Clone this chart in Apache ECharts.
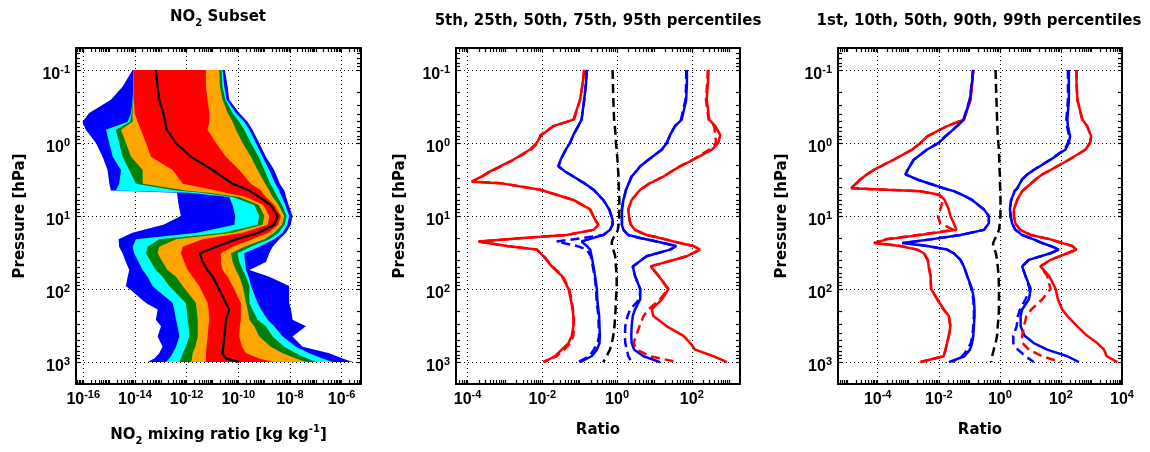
<!DOCTYPE html>
<html>
<head>
<meta charset="utf-8">
<title>NO2 subset percentiles</title>
<script src="https://cdn.jsdelivr.net/npm/echarts@6/dist/echarts.min.js"></script>
<style>
  html, body { margin: 0; padding: 0; background: #fff; }
  #chart { width: 1150px; height: 452px; }
</style>
</head>
<body>
<div id="chart"></div>
<script>
// all values are log10: pressure in hPa, mixing ratio in kg/kg, ratios unitless

// panel 1: NO2 subset distribution, one row per pressure level
var subsetLogP = [-1.00, -0.77, -0.59, -0.41, -0.29, -0.18, 0.00, 0.19, 0.37, 0.56, 0.65, 0.68, 0.74, 0.85, 1.00, 1.12, 1.23,
  1.32, 1.42, 1.51, 1.63, 1.74, 1.83, 1.96, 2.19, 2.28, 2.42, 2.51, 2.65, 2.79, 2.88, 2.95, 3.00];
var subsetMin = [-14.09, -14.48, -14.93, -15.77, -16.03, -15.90, -15.51, -15.25, -15.06, -14.99, -14.93, -12.37, -12.35, -12.31, -12.22, -12.90, -14.10,
  -14.63, -14.61, -14.48, -14.35, -14.22, -14.28, -14.35, -13.57, -13.12, -13.19, -12.99, -13.12, -12.93, -13.06, -13.25, -13.51];
var subsetP01 = [-14.06, -14.06, -14.09, -14.15, -14.28, -15.12, -14.99, -14.86, -14.54, -14.61, -14.74, -11.90, -10.35, -10.22, -10.12, -10.15, -11.60,
  -13.96, -14.09, -14.03, -13.86, -13.70, -13.51, -13.32, -12.54, -12.48, -12.41, -12.35, -12.28, -12.41, -12.54, -12.67, -12.80];
var subsetP05 = [-14.06, -14.06, -14.08, -14.12, -14.19, -14.74, -14.61, -14.48, -14.22, -13.96, -12.41, -11.38, -10.22, -9.38, -9.19, -9.25, -10.61,
  -13.06, -13.51, -13.57, -13.38, -13.19, -12.93, -12.67, -12.03, -12.00, -11.96, -11.92, -11.90, -12.03, -12.15, -12.22, -12.28];
var subsetP10 = [-14.06, -14.05, -14.06, -14.09, -14.09, -14.54, -14.35, -14.15, -13.70, -13.70, -12.03, -11.12, -9.96, -9.21, -8.99, -9.06, -10.22,
  -12.41, -13.06, -13.12, -12.93, -12.74, -12.41, -12.15, -11.64, -11.61, -11.57, -11.57, -11.57, -11.66, -11.77, -11.79, -11.83];
var subsetP25 = [-14.06, -14.04, -14.04, -14.01, -13.90, -13.77, -13.57, -13.38, -12.54, -12.15, -10.86, -10.48, -9.70, -9.03, -8.80, -8.86, -9.83,
  -11.38, -12.15, -12.22, -12.09, -11.96, -11.77, -11.51, -11.19, -11.15, -11.12, -11.15, -11.19, -11.23, -11.25, -11.25, -11.25];
var subsetP50 = [-13.19, -13.12, -13.06, -12.90, -12.83, -12.77, -12.41, -11.83, -10.99, -10.22, -9.57, -9.45, -9.19, -8.74, -8.48, -8.61, -9.21,
  -10.09, -10.86, -11.48, -11.38, -11.19, -10.99, -10.80, -10.48, -10.35, -10.48, -10.50, -10.54, -10.58, -10.61, -10.48, -9.96];
var subsetP75 = [-11.25, -11.25, -11.19, -11.12, -11.12, -11.19, -10.86, -10.48, -9.96, -9.51, -9.12, -9.06, -8.93, -8.61, -8.35, -8.45, -8.83,
  -9.45, -10.22, -10.67, -10.67, -10.61, -10.41, -10.22, -9.90, -9.90, -9.90, -9.94, -9.96, -9.86, -9.70, -9.19, -8.67];
var subsetP90 = [-10.74, -10.71, -10.61, -10.41, -10.22, -10.09, -9.83, -9.51, -9.25, -8.96, -8.80, -8.76, -8.67, -8.44, -8.22, -8.31, -8.61,
  -8.99, -9.77, -10.28, -10.22, -10.09, -9.96, -9.83, -9.70, -9.64, -9.57, -9.38, -9.19, -8.74, -8.28, -7.77, -7.38];
var subsetP95 = [-10.65, -10.61, -10.50, -10.22, -9.96, -9.77, -9.51, -9.21, -8.99, -8.76, -8.61, -8.57, -8.48, -8.31, -8.13, -8.21, -8.44,
  -8.80, -9.51, -10.03, -9.96, -9.83, -9.70, -9.57, -9.57, -9.45, -9.25, -8.93, -8.67, -8.22, -7.77, -7.32, -6.99];
var subsetP99 = [-10.61, -10.54, -10.45, -10.09, -9.77, -9.57, -9.32, -9.06, -8.80, -8.57, -8.41, -8.39, -8.31, -8.18, -8.03, -8.10, -8.28,
  -8.61, -9.19, -9.77, -9.74, -9.70, -9.60, -9.51, -9.25, -9.12, -8.86, -8.61, -8.28, -7.77, -7.25, -6.74, -6.35];
var subsetMax = [-10.52, -10.41, -10.35, -9.96, -9.64, -9.45, -9.19, -8.93, -8.61, -8.39, -8.22, -8.19, -8.15, -8.05, -7.90, -7.97, -8.15,
  -8.41, -8.67, -8.80, -8.93, -9.57, -8.80, -8.03, -8.03, -7.96, -7.90, -7.38, -7.90, -7.51, -6.48, -5.96, -5.57];

// panel 2: ratios of 5th, 25th, 50th, 75th, 95th percentiles (solid / dashed runs)
var ratioLogP2 = [-1.00, -0.82, -0.59, -0.32, -0.23, -0.11, 0.00, 0.09, 0.23, 0.32, 0.39, 0.46, 0.53, 0.55, 0.64, 0.78, 0.91, 1.05, 1.12,
  1.19, 1.26, 1.30, 1.35, 1.41, 1.46, 1.55, 1.69, 1.82, 2.00, 2.14, 2.28, 2.37, 2.51, 2.64, 2.74, 2.83, 2.92, 3.00];
var p05Solid = [-0.88, -0.92, -0.99, -1.17, -1.71, -2.02, -2.15, -2.33, -2.78, -3.13, -3.40, -3.63, -3.89, -3.13, -2.06, -1.17, -0.72, -0.59, -0.50,
  -0.63, -1.35, -2.51, -3.71, -2.96, -2.15, -1.97, -1.75, -1.48, -1.30, -1.24, -1.19, -1.17, -1.17, -1.21, -1.30, -1.48, -1.66, -1.97];
var p05Dash = [-0.88, -0.92, -0.99, -1.15, -1.70, -2.05, -2.12, -2.30, -2.76, -3.10, -3.38, -3.62, -3.88, -3.12, -2.05, -1.17, -0.72, -0.59, -0.50,
  -0.63, -1.35, -2.50, -3.70, -2.95, -2.14, -1.96, -1.73, -1.46, -1.28, -1.22, -1.18, -1.16, -1.15, -1.17, -1.25, -1.42, -1.62, -1.97];
var p25Solid = [-0.81, -0.83, -0.88, -0.95, -1.04, -1.17, -1.26, -1.37, -1.51, -1.57, -1.39, -1.17, -0.95, -0.88, -0.63, -0.37, -0.21, -0.12, -0.12,
  -0.19, -0.37, -0.63, -0.95, -0.81, -0.72, -0.68, -0.63, -0.59, -0.54, -0.53, -0.50, -0.48, -0.47, -0.46, -0.47, -0.54, -0.68, -0.99];
var p25Dash = [-0.81, -0.83, -0.88, -0.95, -1.04, -1.17, -1.26, -1.37, -1.51, -1.57, -1.39, -1.17, -0.95, -0.88, -0.63, -0.37, -0.21, -0.12, -0.12,
  -0.19, -0.37, -0.90, -1.62, -1.08, -0.81, -0.70, -0.65, -0.60, -0.56, -0.55, -0.52, -0.50, -0.49, -0.48, -0.52, -0.62, -0.74, -1.04];
var p50Dash2 = [-0.12, -0.11, -0.10, -0.08, -0.06, -0.04, -0.03, -0.01, 0.01, 0.02, 0.03, 0.04, 0.04, 0.04, 0.05, 0.06, 0.06, 0.05, 0.04,
  0.02, -0.03, -0.10, -0.14, -0.14, -0.10, -0.05, -0.03, -0.01, -0.01, -0.03, -0.04, -0.05, -0.07, -0.10, -0.14, -0.19, -0.28, -0.37];
var p75Solid = [1.87, 1.87, 1.85, 1.73, 1.55, 1.42, 1.33, 1.20, 0.84, 0.62, 0.51, 0.39, 0.33, 0.30, 0.24, 0.17, 0.13, 0.13, 0.13,
  0.17, 0.30, 0.62, 1.06, 1.58, 1.42, 0.79, 0.42, 0.48, 0.62, 0.62, 0.48, 0.42, 0.39, 0.38, 0.39, 0.46, 0.71, 1.15];
var p75Dash = [1.85, 1.85, 1.83, 1.71, 1.55, 1.42, 1.33, 1.20, 0.84, 0.62, 0.51, 0.39, 0.33, 0.30, 0.24, 0.17, 0.13, 0.13, 0.13,
  0.17, 0.30, 0.62, 1.06, 1.58, 1.42, 0.79, 0.42, 0.48, 0.62, 0.60, 0.35, 0.28, 0.22, 0.21, 0.22, 0.26, 0.30, 0.39];
var p95Solid = [2.45, 2.43, 2.40, 2.47, 2.63, 2.76, 2.71, 2.54, 2.04, 1.69, 1.46, 1.24, 0.97, 0.88, 0.62, 0.39, 0.30, 0.33, 0.37,
  0.48, 0.79, 1.15, 1.51, 2.04, 2.22, 1.87, 0.90, 1.11, 1.38, 1.20, 0.93, 0.97, 1.33, 1.78, 1.96, 2.09, 2.58, 2.94];
var p95Dash = [2.43, 2.41, 2.38, 2.45, 2.60, 2.63, 2.65, 2.47, 2.02, 1.67, 1.45, 1.23, 0.97, 0.88, 0.62, 0.39, 0.30, 0.33, 0.37,
  0.48, 0.79, 1.15, 1.51, 2.04, 2.22, 1.87, 0.90, 1.11, 1.36, 1.15, 0.84, 0.71, 0.60, 0.51, 0.44, 0.53, 0.88, 1.62];

// panel 3: ratios of 1st, 10th, 50th, 90th, 99th percentiles
var ratioLogP3 = [-1.00, -0.82, -0.59, -0.32, -0.23, -0.09, 0.00, 0.09, 0.23, 0.37, 0.43, 0.50, 0.62, 0.66, 0.71, 0.78, 0.91, 1.00, 1.10,
  1.19, 1.26, 1.32, 1.37, 1.41, 1.46, 1.51, 1.60, 1.69, 1.82, 2.00, 2.14, 2.28, 2.37, 2.51, 2.64, 2.74, 2.83, 2.92, 3.00];
var p01Solid = [-0.87, -0.91, -0.96, -1.18, -1.73, -2.38, -2.60, -2.87, -3.48, -4.13, -4.35, -4.57, -4.87, -2.60, -1.97, -1.81, -1.67, -1.62, -1.51,
  -1.42, -2.60, -3.69, -4.13, -3.26, -2.71, -2.49, -2.36, -2.33, -2.27, -2.25, -2.05, -1.84, -1.67, -1.62, -1.67, -1.73, -1.78, -1.84, -2.60];
var p01Dash = [-0.87, -0.91, -0.96, -1.18, -1.73, -2.38, -2.60, -2.87, -3.48, -4.13, -4.35, -4.57, -4.85, -2.62, -2.00, -1.86, -1.95, -2.03, -1.95,
  -1.51, -2.71, -3.80, -4.08, -3.26, -2.71, -2.49, -2.36, -2.33, -2.27, -2.25, -2.05, -1.84, -1.67, -1.62, -1.67, -1.73, -1.78, -1.84, -2.60];
var p10Solid = [-0.87, -0.91, -0.98, -1.18, -1.40, -1.78, -2.00, -2.38, -2.82, -3.02, -3.09, -2.71, -1.84, -1.51, -1.23, -0.91, -0.52, -0.36, -0.36,
  -0.52, -1.29, -2.27, -3.20, -2.38, -1.73, -1.51, -1.29, -1.18, -1.07, -0.91, -0.85, -0.83, -0.83, -0.85, -0.87, -0.91, -0.98, -1.16, -1.67];
var p10Dash = [-0.88, -0.92, -0.99, -1.19, -1.41, -1.79, -2.01, -2.38, -2.82, -3.02, -3.09, -2.71, -1.84, -1.51, -1.23, -0.91, -0.52, -0.36, -0.36,
  -0.52, -1.29, -2.27, -3.10, -2.38, -1.73, -1.51, -1.29, -1.18, -1.07, -0.93, -0.87, -0.85, -0.85, -0.87, -0.90, -0.95, -1.07, -1.23, -1.56];
var p50Dash3 = [-0.14, -0.13, -0.11, -0.09, -0.08, -0.07, -0.05, -0.03, -0.02, -0.01, 0.00, 0.00, 0.01, 0.02, 0.02, 0.02, 0.02, 0.02, 0.00,
  -0.03, -0.09, -0.17, -0.22, -0.22, -0.17, -0.13, -0.09, -0.07, -0.04, -0.03, -0.03, -0.03, -0.04, -0.07, -0.09, -0.14, -0.20, -0.25, -0.28];
var p90Solid = [2.26, 2.26, 2.26, 2.21, 2.23, 2.30, 2.26, 2.15, 1.66, 1.11, 0.90, 0.73, 0.57, 0.48, 0.44, 0.37, 0.33, 0.35, 0.40,
  0.51, 0.73, 1.11, 1.39, 1.66, 1.93, 1.66, 0.95, 0.73, 0.84, 1.01, 0.95, 0.73, 0.68, 0.68, 0.81, 1.11, 1.55, 2.21, 2.59];
var p90Dash = [2.23, 2.23, 2.23, 2.18, 2.20, 2.27, 2.23, 2.12, 1.64, 1.10, 0.90, 0.73, 0.57, 0.48, 0.44, 0.37, 0.33, 0.35, 0.40,
  0.51, 0.73, 1.11, 1.39, 1.66, 1.93, 1.66, 0.95, 0.73, 0.84, 0.98, 0.84, 0.66, 0.59, 0.55, 0.44, 0.44, 0.59, 0.84, 1.11];
var p99Solid = [2.51, 2.51, 2.54, 2.70, 2.86, 2.99, 2.95, 2.81, 2.26, 1.66, 1.39, 1.17, 0.84, 0.73, 0.66, 0.57, 0.46, 0.46, 0.51,
  0.66, 1.01, 1.66, 2.04, 2.37, 2.51, 2.21, 1.66, 1.33, 1.61, 1.83, 1.90, 2.04, 2.21, 2.54, 2.86, 3.19, 3.41, 3.50, 3.85];
var p99Dash = [2.51, 2.51, 2.54, 2.70, 2.86, 2.99, 2.95, 2.81, 2.26, 1.66, 1.39, 1.17, 0.84, 0.73, 0.66, 0.57, 0.46, 0.46, 0.51,
  0.66, 1.01, 1.66, 2.04, 2.37, 2.51, 2.21, 1.66, 1.33, 1.55, 1.66, 1.39, 1.03, 0.87, 0.79, 0.73, 0.74, 0.95, 1.39, 1.99];

var FONT = 'DejaVu Sans';
var LABEL_FONT = 'Liberation Sans';
var RED = '#ff0000', BLUE = '#0000ff', BLACK = '#000000';

var panels = [
  { left: 76, width: 285, xMin: -16.28, xMax: -5.25, titleX: 218, titleTop: 6,
    title: '{a|NO}{b|2}{a| Subset}', xName: '{a|NO}{b|2}{a| mixing ratio [kg kg}{c|-1}{a|]}' },
  { left: 456, width: 284, xMin: -4.31, xMax: 3.29, titleX: 598, titleTop: 10,
    title: '{a|5th, 25th, 50th, 75th, 95th percentiles}', xName: '{a|Ratio}' },
  { left: 838, width: 284, xMin: -5.30, xMax: 4.0, titleX: 979, titleTop: 10,
    title: '{a|1st, 10th, 50th, 90th, 99th percentiles}', xName: '{a|Ratio}' }
];
var pMin = -1.3, pMax = 3.3;

var textRich = {
  a: { fontFamily: FONT, fontWeight: 'bold', fontSize: 15, lineHeight: 22, color: BLACK },
  b: { fontFamily: FONT, fontWeight: 'bold', fontSize: 10, lineHeight: 10, padding: [12, 0, 0, 0], color: BLACK },
  c: { fontFamily: FONT, fontWeight: 'bold', fontSize: 10, lineHeight: 10, padding: [0, 0, 12, 0], color: BLACK }
};
var labelRich = {
  b: { fontFamily: LABEL_FONT, fontWeight: 'bold', fontSize: 16, lineHeight: 16, padding: [10, 0, 0, 0], color: BLACK },
  s: { fontFamily: LABEL_FONT, fontWeight: 'bold', fontSize: 11, lineHeight: 11, color: BLACK }
};

function expLabel(v) {
  var n = Math.round(v);
  if (Math.abs(v - n) > 1e-6) return '';
  return '{b|10}{s|' + n + '}';
}

// log-style minor ticks (1..9 x 10^n) inside the extent
function logTicks(lo, hi) {
  var out = [];
  for (var n = Math.floor(lo); n <= Math.ceil(hi); n++) {
    for (var k = 1; k < 10; k++) {
      var v = n + Math.log10(k);
      if (v > lo + 0.01 && v < hi - 0.01) out.push(v);
    }
  }
  return out;
}

var frame = { show: true, onZero: false, lineStyle: { color: BLACK, width: 2 } };
var noLine = { show: false, onZero: false };
var grid = { show: true, showMinLine: false, showMaxLine: false, lineStyle: { color: BLACK, width: 1, type: [1, 3] } };

function tickAxis(base, pos, ticks, line) {
  return Object.assign({}, base, {
    position: pos,
    axisLine: line ? frame : noLine,
    axisTick: { show: true, inside: true, length: 4, customValues: ticks, lineStyle: { color: BLACK, width: 1.2 } },
    axisLabel: { show: false },
    splitLine: { show: false }
  });
}

var grids = [], xAxes = [], yAxes = [], titles = [];
panels.forEach(function (p, i) {
  grids.push({ left: p.left, top: 48, width: p.width, height: 336 });
  titles.push({ text: p.title, left: p.titleX, top: p.titleTop, textAlign: 'center', padding: 0, textStyle: { rich: textRich } });

  var xb = { gridIndex: i, type: 'value', min: p.xMin, max: p.xMax };
  var xt = logTicks(p.xMin, p.xMax);
  xAxes.push(Object.assign({}, xb, {
    position: 'bottom', minInterval: 2, maxInterval: 2,
    axisLine: frame, axisTick: { show: false },
    axisLabel: { formatter: expLabel, rich: labelRich, margin: 3 },
    splitLine: grid,
    name: p.xName, nameLocation: 'middle', nameGap: i === 0 ? 40 : 35,
    nameTextStyle: { rich: textRich }
  }));
  xAxes.push(tickAxis(xb, 'bottom', xt, false));
  xAxes.push(tickAxis(xb, 'top', xt, true));

  var yb = { gridIndex: i, type: 'value', min: pMin, max: pMax, inverse: true };
  var yt = logTicks(pMin, pMax);
  yAxes.push(Object.assign({}, yb, {
    position: 'left', minInterval: 1, maxInterval: 1,
    axisLine: frame, axisTick: { show: false },
    axisLabel: { formatter: expLabel, rich: labelRich, margin: 6 },
    splitLine: grid,
    name: 'Pressure [hPa]', nameLocation: 'middle', nameGap: 48,
    nameTextStyle: { fontFamily: FONT, fontWeight: 'bold', fontSize: 15, color: BLACK }
  }));
  yAxes.push(tickAxis(yb, 'left', yt, false));
  yAxes.push(tickAxis(yb, 'right', yt, true));
});

function bandSeries(lo, hi, color) {
  var pts = [];
  for (var i = 0; i < subsetLogP.length; i++) pts.push([lo[i], subsetLogP[i]]);
  for (var j = subsetLogP.length - 1; j >= 0; j--) pts.push([hi[j], subsetLogP[j]]);
  return {
    type: 'custom', xAxisIndex: 0, yAxisIndex: 0, silent: true, clip: true,
    encode: { x: 0, y: 1 }, data: pts, z: 1,
    renderItem: function (params, api) {
      if (params.dataIndex !== 0) return null;
      return {
        type: 'polygon',
        shape: { points: pts.map(function (q) { return api.coord(q); }) },
        style: { fill: color }
      };
    }
  };
}

function lineSeries(gi, xs, levels, color, dashed) {
  return {
    type: 'line', xAxisIndex: gi * 3, yAxisIndex: gi * 3, silent: true,
    data: xs.map(function (x, k) { return [x, levels[k]]; }),
    showSymbol: false, symbol: 'none', z: dashed ? 4 : 3,
    lineStyle: { color: color, width: 2.5, type: dashed ? [9, 5] : 'solid' }
  };
}

var series = [
  bandSeries(subsetMin, subsetMax, BLUE),
  bandSeries(subsetP01, subsetP99, '#00ffff'),
  bandSeries(subsetP05, subsetP95, '#008000'),
  bandSeries(subsetP10, subsetP90, '#ffa500'),
  bandSeries(subsetP25, subsetP75, RED),
  {
    type: 'line', xAxisIndex: 0, yAxisIndex: 0, silent: true, z: 5,
    data: subsetP50.map(function (x, k) { return [x, subsetLogP[k]]; }),
    showSymbol: false, symbol: 'none', lineStyle: { color: BLACK, width: 2.2 }
  },
  lineSeries(1, p05Solid, ratioLogP2, RED, false),
  lineSeries(1, p95Solid, ratioLogP2, RED, false),
  lineSeries(1, p25Solid, ratioLogP2, BLUE, false),
  lineSeries(1, p75Solid, ratioLogP2, BLUE, false),
  lineSeries(1, p05Dash, ratioLogP2, RED, true),
  lineSeries(1, p95Dash, ratioLogP2, RED, true),
  lineSeries(1, p25Dash, ratioLogP2, BLUE, true),
  lineSeries(1, p75Dash, ratioLogP2, BLUE, true),
  lineSeries(1, p50Dash2, ratioLogP2, BLACK, true),
  lineSeries(2, p01Solid, ratioLogP3, RED, false),
  lineSeries(2, p99Solid, ratioLogP3, RED, false),
  lineSeries(2, p10Solid, ratioLogP3, BLUE, false),
  lineSeries(2, p90Solid, ratioLogP3, BLUE, false),
  lineSeries(2, p01Dash, ratioLogP3, RED, true),
  lineSeries(2, p99Dash, ratioLogP3, RED, true),
  lineSeries(2, p10Dash, ratioLogP3, BLUE, true),
  lineSeries(2, p90Dash, ratioLogP3, BLUE, true),
  lineSeries(2, p50Dash3, ratioLogP3, BLACK, true)
];

var chart = echarts.init(document.getElementById('chart'));
chart.setOption({
  animation: false,
  backgroundColor: '#ffffff',
  title: titles,
  grid: grids,
  xAxis: xAxes,
  yAxis: yAxes,
  series: series
});
</script>
</body>
</html>
